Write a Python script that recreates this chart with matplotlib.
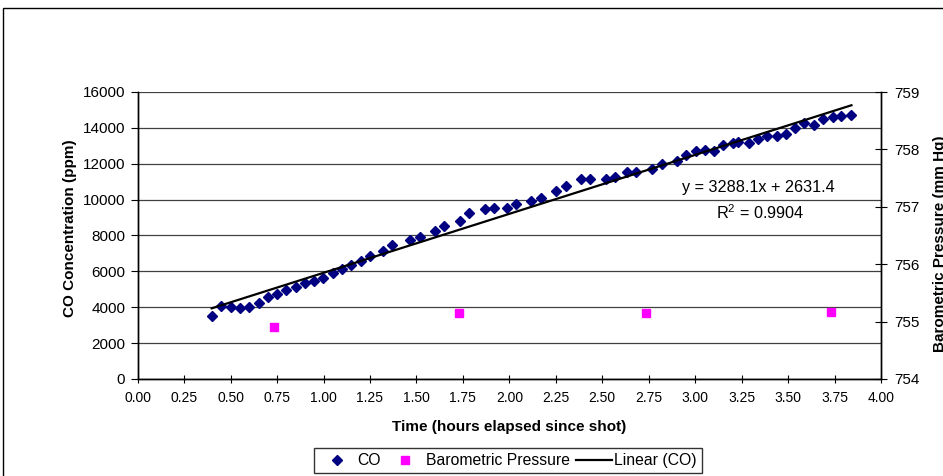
import matplotlib
matplotlib.use('Agg')
import matplotlib.pyplot as plt
from matplotlib.lines import Line2D
from matplotlib.patches import Rectangle
import numpy as np

plt.rcParams['font.family'] = ['Liberation Sans', 'DejaVu Sans']

# CO readings (hours since shot, ppm)
co_hours = [0.398, 0.447, 0.502, 0.551, 0.599, 0.654, 0.703, 0.751, 0.798, 0.854,
            0.902, 0.950, 0.997, 1.053, 1.101, 1.150, 1.203, 1.252, 1.319, 1.369,
            1.466, 1.519, 1.602, 1.650, 1.735, 1.783, 1.871, 1.919, 1.988, 2.036,
            2.118, 2.168, 2.249, 2.304, 2.387, 2.434, 2.519, 2.567, 2.635, 2.682,
            2.770, 2.820, 2.901, 2.949, 3.005, 3.053, 3.102, 3.149, 3.204, 3.233,
            3.289, 3.337, 3.385, 3.439, 3.488, 3.536, 3.584, 3.640, 3.687, 3.743,
            3.784, 3.841]
co_ppm = [3529, 4070, 3997, 3941, 4014, 4220, 4588, 4722, 4945, 5146,
          5352, 5447, 5647, 5926, 6149, 6372, 6595, 6874, 7152, 7470,
          7749, 7933, 8251, 8513, 8808, 9237, 9461, 9516, 9516, 9739,
          9940, 10079, 10508, 10732, 11150, 11150, 11150, 11261, 11540, 11523,
          11724, 11969, 12153, 12471, 12694, 12766, 12711, 13045, 13173, 13229,
          13157, 13363, 13547, 13564, 13658, 14010, 14255, 14160, 14511, 14589,
          14662, 14734]

# barometric pressure (hours, mm Hg)
bp_hours = [0.734, 1.731, 2.736, 3.731]
bp_mmhg = [754.906, 755.15, 755.15, 755.16]

# Excel trendline
slope = 3288.1
intercept = 2631.4
r_squared = 0.9904

fig = plt.figure(figsize=(9.43, 4.76), dpi=100)
ax = fig.add_axes([137.7 / 943, 1 - 379 / 476, (881 - 137.7) / 943, (379 - 92) / 476])
ax2 = ax.twinx()

# outer chart frame
fig.patches.append(Rectangle((3 / 943, -0.5), 2.0, 1.5 - 8 / 476, transform=fig.transFigure,
                             fill=False, edgecolor='black', linewidth=1.0))

ax.set_axisbelow(True)
ax.yaxis.grid(True, color='#404040', linewidth=0.9)

ax.plot(co_hours, co_ppm, linestyle='none', marker='D', markersize=5.5,
        color='#000080', zorder=3)
tx = np.array([min(co_hours), max(co_hours)])
ax.plot(tx, slope * tx + intercept, color='black', linewidth=1.6, zorder=4)
ax2.plot(bp_hours, bp_mmhg, linestyle='none', marker='s', markersize=5.5,
         color='#FF00FF')

ax.set_xlim(0, 4)
ax.set_ylim(0, 16000)
ax.set_xticks(np.arange(0, 4.01, 0.25))
ax.set_xticklabels(['%.2f' % t for t in np.arange(0, 4.01, 0.25)])
ax.set_yticks(range(0, 16001, 2000))
ax2.set_ylim(754, 759)
ax2.set_yticks(range(754, 760))

for a in (ax, ax2):
    a.spines['top'].set_visible(False)
    for s in a.spines.values():
        s.set_linewidth(1.0)
        s.set_color('black')

ax.tick_params(axis='y', direction='out', length=5, labelsize=11, pad=4)
ax.tick_params(axis='x', direction='inout', length=6, labelsize=10, pad=6)
ax2.tick_params(axis='y', direction='inout', length=9, labelsize=11, pad=5)

fig.text(70 / 943, 1 - 228 / 476, 'CO Concentration (ppm)', rotation=90,
         ha='center', va='center', fontsize=11, fontweight='bold')
fig.text(933 / 943, 1 - 135 / 476, 'Barometric Pressure (mm Hg)', rotation=90,
         ha='left', va='top', fontsize=11, fontweight='bold')
fig.text(509 / 943, 1 - 427 / 476, 'Time (hours elapsed since shot)',
         ha='center', va='center', fontsize=11, fontweight='bold')

ax.text(3.34, 10650, 'y = %.1fx + %.1f' % (slope, intercept), ha='center', va='center',
        fontsize=11.7)
ax.text(3.35, 9300, '$\\mathregular{R^2}$ = %.4f' % r_squared, ha='center', va='center',
        fontsize=11.7)

handles = [
    Line2D([], [], linestyle='none', marker='D', markersize=5.5, color='#000080'),
    Line2D([], [], linestyle='none', marker='s', markersize=5.5, color='#FF00FF'),
    Line2D([], [], color='black', linewidth=1.6),
]
leg = fig.legend(handles, ['CO', 'Barometric Pressure', 'Linear (CO)'], ncol=3,
                 loc='center', bbox_to_anchor=(508 / 943, 1 - 460.5 / 476),
                 fontsize=11.3, frameon=True, fancybox=False, edgecolor='black',
                 handlelength=2.3, handletextpad=0.15, columnspacing=0.4,
                 borderpad=0.3, borderaxespad=0)
leg.get_frame().set_linewidth(1.0)

fig.savefig('out.png', dpi=100)
